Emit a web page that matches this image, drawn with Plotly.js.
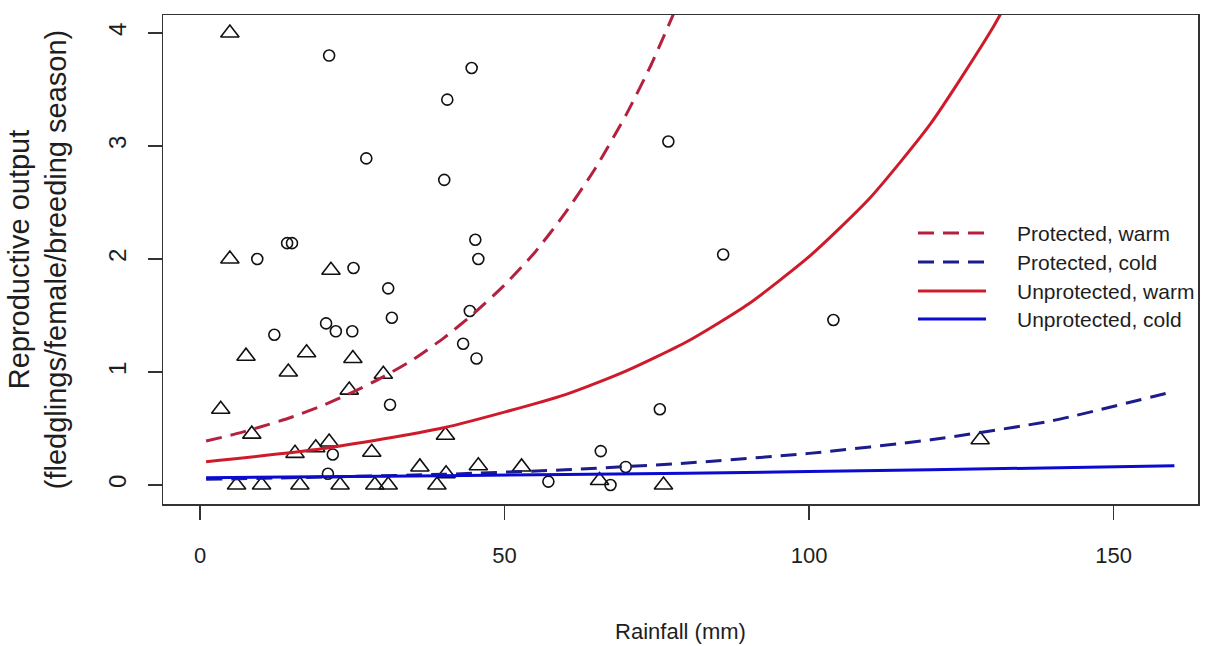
<!DOCTYPE html>
<html><head><meta charset="utf-8">
<script src="https://cdn.plot.ly/plotly-3.0.1.min.js"></script>
<style>html,body{margin:0;padding:0;background:#fff}#chart{width:1212px;height:646px}</style>
</head><body><div id="chart"></div>
<script>
// Observed points: circles (protected nests) and triangles (unprotected nests)
const circleX = [21.2, 27.3, 14.3, 15.1, 9.4, 25.2, 30.9, 31.5, 20.7, 22.3, 25.0, 12.2, 31.2, 21.8, 21.0,
                 44.6, 40.6, 40.1, 76.9, 45.2, 45.7, 44.3, 43.2, 45.4, 85.9, 104.0, 75.5, 57.2, 65.8, 67.4, 69.9];
const circleY = [3.80, 2.89, 2.14, 2.14, 2.00, 1.92, 1.74, 1.48, 1.43, 1.36, 1.36, 1.33, 0.71, 0.27, 0.10,
                 3.69, 3.41, 2.70, 3.04, 2.17, 2.00, 1.54, 1.25, 1.12, 2.04, 1.46, 0.67, 0.03, 0.30, 0.00, 0.16];
const triX = [4.9, 4.9, 21.5, 7.55, 17.5, 25.1, 14.5, 30.1, 24.5, 3.4, 8.5, 15.6, 19.0, 21.2, 28.2, 36.1,
              40.3, 40.4, 45.7, 52.8, 65.6, 128.1, 6.0, 10.1, 16.4, 23.0, 28.7, 30.9, 38.9, 76.1];
const triY = [4.00, 2.00, 1.90, 1.14, 1.17, 1.12, 1.00, 0.98, 0.84, 0.67, 0.45, 0.28, 0.33, 0.38, 0.29, 0.16,
              0.44, 0.10, 0.17, 0.16, 0.04, 0.40, 0, 0, 0, 0, 0, 0, 0, 0];

// Model prediction curves
const pwX = [1, 5, 10, 15, 20, 25, 30, 35, 40, 45, 50, 55, 60, 65, 70, 74, 78];
const pwY = [0.39, 0.44, 0.515, 0.60, 0.70, 0.82, 0.955, 1.11, 1.30, 1.52, 1.77, 2.06, 2.41, 2.81, 3.28, 3.71, 4.20];
const pcX = [1, 20, 40, 60, 80, 100, 120, 140, 160];
const pcY = [0.05, 0.07, 0.095, 0.135, 0.195, 0.28, 0.40, 0.57, 0.83];
const uwX = [1, 20, 40, 60, 70, 80, 90, 100, 110, 120, 130, 135];
const uwY = [0.206, 0.32, 0.506, 0.80, 1.01, 1.27, 1.60, 2.02, 2.54, 3.20, 4.03, 4.52];
const ucX = [1, 40, 80, 120, 160];
const ucY = [0.065, 0.082, 0.105, 0.134, 0.171];

const seriesNames = ['Protected, warm', 'Protected, cold', 'Unprotected, warm', 'Unprotected, cold'];
const seriesColors = ['#B3213F', '#1C1C8C', '#CE1B2B', '#0A0AD0'];
const seriesDash = ['16px,9px', '16px,9px', 'solid', 'solid'];

const xTicks = [0, 50, 100, 150];
const yTicks = [0, 1, 2, 3, 4];

const regular = '"Liberation Sans", Arial, sans-serif';
const ink = '#1e1e1e';

const curves = [[pwX, pwY], [pcX, pcY], [uwX, uwY], [ucX, ucY]];

const traces = [
  {x: circleX, y: circleY, type: 'scatter', mode: 'markers', name: 'Protected nests', showlegend: false,
   marker: {symbol: 'circle-open', size: 11, color: '#111', line: {width: 1.6}}},
  {x: triX, y: triY, type: 'scatter', mode: 'markers', name: 'Unprotected nests', showlegend: false,
   marker: {symbol: 'triangle-up-open', size: 16, color: '#111', line: {width: 1.6}}}
];
curves.forEach((c, i) => {
  traces.push({x: c[0], y: c[1], type: 'scatter', mode: 'lines', name: seriesNames[i], showlegend: false,
    line: {color: seriesColors[i], width: 3, dash: seriesDash[i], shape: 'spline', smoothing: 0.6}});
});

// Custom legend (long line samples as in the original)
const L = 163, R = 1198, T = 15, B = 504;
const px = v => (v - L) / (R - L);
const py = v => (B - v) / (B - T);
const legRows = [233, 262, 291, 319];
const shapes = [], annotations = [];
seriesNames.forEach((n, i) => {
  shapes.push({type: 'line', xref: 'paper', yref: 'paper', x0: px(918), x1: px(986), y0: py(legRows[i]), y1: py(legRows[i]),
    line: {color: seriesColors[i], width: 3, dash: seriesDash[i]}});
  annotations.push({xref: 'paper', yref: 'paper', x: px(1015), y: py(legRows[i]), xanchor: 'left', yanchor: 'middle',
    text: n, showarrow: false, font: {family: regular, size: 21, color: ink}});
});

const layout = {
  width: 1212, height: 646,
  margin: {l: L, r: 1212 - R, t: T, b: 646 - B},
  paper_bgcolor: '#fff', plot_bgcolor: '#fff',
  showlegend: false,
  font: {family: regular, color: ink},
  xaxis: {range: [-6.08, 163.87], tickvals: xTicks, ticktext: xTicks.map(String), ticks: 'outside', ticklen: 14,
    tickwidth: 1.3, tickcolor: '#333', showline: true, linecolor: '#333', linewidth: 1.5, mirror: true,
    showgrid: false, zeroline: false, tickfont: {family: regular, size: 22, color: ink}, ticklabelstandoff: 17,
    title: {text: 'Rainfall (mm)', font: {family: regular, size: 22, color: ink}, standoff: 56}, automargin: false},
  yaxis: {range: [-0.168, 4.159], tickvals: yTicks, ticktext: yTicks.map(String), ticks: 'outside', ticklen: 14,
    tickwidth: 1.3, tickcolor: '#333', showline: true, linecolor: '#333', linewidth: 1.5, mirror: true,
    showgrid: false, zeroline: false, tickangle: -90, tickfont: {family: regular, size: 24, color: ink}, ticklabelstandoff: 12,
    title: {text: 'Reproductive output<br>(fledglings/female/breeding season)', font: {family: regular, size: 29, color: ink}, standoff: 28},
    automargin: false},
  shapes: shapes,
  annotations: annotations
};

Plotly.newPlot('chart', traces, layout, {displayModeBar: false, staticPlot: true});
</script>
</body></html>
